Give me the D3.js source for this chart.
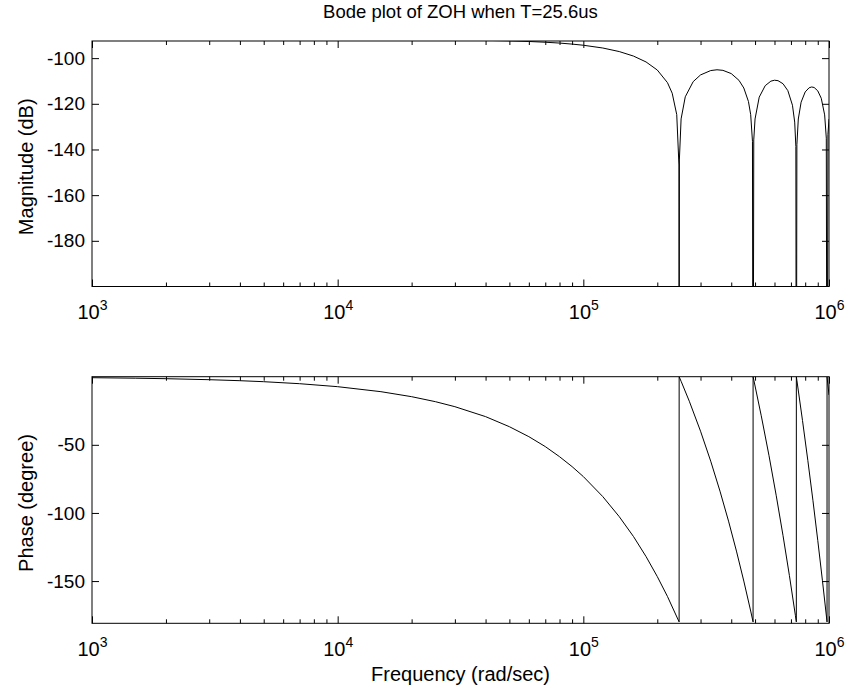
<!DOCTYPE html>
<html>
<head>
<meta charset="utf-8">
<script src="https://cdn.jsdelivr.net/npm/d3@7"></script>
<style>
  body { margin: 0; background: #fff; }
  svg { font-family: "Liberation Sans", Arial, Helvetica, sans-serif; }
</style>
</head>
<body>
<div id="chart"></div>
<script>
// frequency (rad/sec) and magnitude (dB)
const magFreq = [1000, 10000, 20000, 30000, 40000, 50000, 60000, 70000, 80000, 90000,
  100000, 120000, 140000, 160000, 180000, 200000, 220000, 230000, 240000, 245000,
  245437, 246000, 250000, 260000, 280000, 300000, 330000, 350000, 370000, 400000,
  430000, 450000, 470000, 480000, 488000, 490874, 494000, 500000, 520000, 550000,
  580000, 600000, 620000, 650000, 680000, 710000, 725000, 733000, 736311, 740000,
  750000, 770000, 800000, 830000, 850000, 870000, 900000, 930000, 960000, 975000,
  981748, 990000, 1000000];
const magDb = [-91.84, -91.86, -91.94, -92.05, -92.22, -92.44, -92.71, -93.04, -93.41, -93.86,
  -94.36, -95.57, -97.12, -99.10, -101.67, -105.21, -110.73, -115.36, -124.74, -146.8,
  -300, -144.6, -126.62, -116.93, -110.30, -107.36, -105.44, -105.10, -105.35, -106.77,
  -109.72, -113.08, -118.99, -124.77, -136.4, -300, -135.8, -126.64, -117.08, -112.06,
  -110.08, -109.68, -109.86, -111.22, -114.24, -120.63, -128.01, -138.7, -300, -137.9,
  -126.66, -119.29, -114.80, -112.98, -112.63, -112.86, -114.32, -117.57, -124.85, -135.04,
  -300, -133.44, -126.69];

// frequency (rad/sec) and phase (degree)
const phaseFreq = [1000, 1500, 2000, 3000, 4000, 5000, 7000, 10000, 15000, 20000,
  25000, 30000, 40000, 50000, 60000, 70000, 80000, 90000, 100000, 120000,
  140000, 160000, 180000, 200000, 220000, 245400,
  245480, 250000, 270000, 300000, 330000, 360000, 390000, 420000, 450000, 480000, 490850,
  490900, 495000, 530000, 570000, 610000, 650000, 690000, 730000, 736290,
  736330, 740000, 780000, 820000, 860000, 900000, 940000, 980000, 981730,
  981770, 985000, 1000000];
const phaseDeg = [-0.73, -1.10, -1.47, -2.20, -2.93, -3.67, -5.13, -7.33, -11.0, -14.67,
  -18.33, -22.0, -29.3, -36.7, -44.0, -51.3, -58.7, -66.0, -73.3, -88.0,
  -102.7, -117.3, -132.0, -146.7, -161.3, -179.97,
  -0.03, -3.35, -18.0, -40.0, -62.0, -84.0, -106.0, -128.0, -150.0, -172.0, -179.98,
  -0.02, -3.0, -28.7, -58.0, -87.4, -116.7, -146.0, -175.4, -179.98,
  -0.02, -2.7, -32.1, -61.4, -90.7, -120.1, -149.4, -178.7, -179.99,
  -0.01, -2.4, -13.4];

const majorTicks = [1e3, 1e4, 1e5, 1e6];
const exponents = ["3", "4", "5", "6"];
const magTicks = [-100, -120, -140, -160, -180];
const phaseTicks = [-50, -100, -150];

const width = 848, height = 696;
const left = 92, right = 829;
const panels = [
  { top: 41, bottom: 286.5, domain: [-200, -92.5], ticks: magTicks, label: "Magnitude (dB)",
    freq: magFreq, vals: magDb },
  { top: 376.7, bottom: 623.3, domain: [-181, 0], ticks: phaseTicks, label: "Phase (degree)",
    freq: phaseFreq, vals: phaseDeg }
];

const minorTicks = [];
for (let k = 3; k < 6; k++) {
  for (let m = 2; m <= 9; m++) minorTicks.push(m * Math.pow(10, k));
}

const svg = d3.select("#chart").append("svg")
  .attr("width", width)
  .attr("height", height);

const x = d3.scaleLog().domain([1e3, 1e6]).range([left, right]);

svg.append("text")
  .attr("x", (left + right) / 2)
  .attr("y", 18)
  .attr("text-anchor", "middle")
  .style("font-size", "18.5px")
  .text("Bode plot of ZOH when T=25.6us");

panels.forEach((p, i) => {
  const y = d3.scaleLinear().domain(p.domain).range([p.bottom, p.top]);
  const g = svg.append("g");

  g.append("clipPath").attr("id", "clip" + i)
    .append("rect")
    .attr("x", left).attr("y", p.top)
    .attr("width", right - left).attr("height", p.bottom - p.top);

  // minor x ticks (bottom and top)
  g.append("g").attr("transform", `translate(0,${p.bottom})`)
    .call(d3.axisBottom(x).tickValues(minorTicks).tickSize(-4).tickFormat(""));
  g.append("g").attr("transform", `translate(0,${p.top})`)
    .call(d3.axisTop(x).tickValues(minorTicks).tickSize(-4).tickFormat(""));

  // major x ticks with 10^n labels
  const xb = g.append("g").attr("transform", `translate(0,${p.bottom})`)
    .call(d3.axisBottom(x).tickValues(majorTicks).tickSize(-7).tickPadding(32.5).tickFormat(""));
  xb.selectAll(".tick text").each(function (d, j) {
    const t = d3.select(this).attr("dy", null).style("font-size", "20px");
    t.append("tspan").text("10");
    t.append("tspan").attr("dy", "-9").style("font-size", "14px").text(exponents[j]);
  });
  g.append("g").attr("transform", `translate(0,${p.top})`)
    .call(d3.axisTop(x).tickValues(majorTicks).tickSize(-7).tickFormat(""));

  // y ticks
  g.append("g").attr("transform", `translate(${left},0)`)
    .call(d3.axisLeft(y).tickValues(p.ticks).tickSize(-7).tickPadding(7).tickFormat(d => String(d)))
    .selectAll("text").style("font-size", "19px");
  g.append("g").attr("transform", `translate(${right},0)`)
    .call(d3.axisRight(y).tickValues(p.ticks).tickSize(-7).tickFormat(""));

  g.selectAll(".domain").remove();
  g.selectAll(".tick line").attr("stroke", "#000");
  g.selectAll(".tick text").attr("fill", "#000");

  g.append("rect")
    .attr("x", left).attr("y", p.top)
    .attr("width", right - left).attr("height", p.bottom - p.top)
    .attr("fill", "none").attr("stroke", "#000");

  const line = d3.line()
    .x(d => x(d[0]))
    .y(d => y(d[1]));

  g.append("path")
    .datum(d3.zip(p.freq, p.vals))
    .attr("clip-path", `url(#clip${i})`)
    .attr("fill", "none")
    .attr("stroke", "#000")
    .attr("stroke-width", 1)
    .attr("d", line);

  g.append("text")
    .attr("transform", `translate(33,${(p.top + p.bottom) / 2 + 3}) rotate(-90)`)
    .attr("text-anchor", "middle")
    .style("font-size", "20px")
    .text(p.label);
});

svg.append("text")
  .attr("x", (left + right) / 2)
  .attr("y", 681)
  .attr("text-anchor", "middle")
  .style("font-size", "20px")
  .text("Frequency (rad/sec)");
</script>
</body>
</html>
